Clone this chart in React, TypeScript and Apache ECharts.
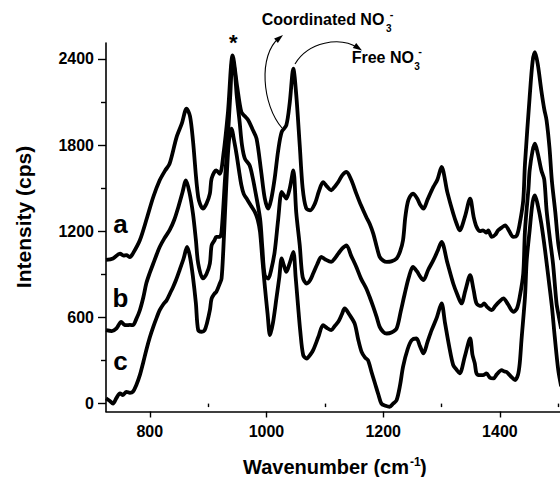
import React, { useEffect, useRef } from "react";
import * as echarts from "echarts";

const FONT = "Liberation Sans, Arial, sans-serif";

const waveA = [725, 737, 749, 755, 760, 766, 771, 783, 795, 806, 817, 826, 834, 846, 855, 863, 869, 874, 883, 891, 897, 903, 906, 914, 920, 926, 934, 942, 950, 957, 963, 969, 976, 983, 991, 997, 1003, 1008, 1014, 1020, 1026, 1034, 1040, 1046, 1051, 1057, 1062, 1068, 1075, 1083, 1090, 1097, 1104, 1111, 1117, 1123, 1130, 1137, 1145, 1154, 1162, 1171, 1177, 1183, 1189, 1194, 1200, 1206, 1214, 1223, 1229, 1234, 1238, 1243, 1251, 1258, 1264, 1269, 1276, 1286, 1293, 1300, 1310, 1320, 1326, 1331, 1340, 1349, 1355, 1360, 1366, 1371, 1377, 1380, 1386, 1392, 1397, 1403, 1409, 1416, 1423, 1429, 1434, 1440, 1443, 1451, 1456, 1460, 1465, 1471, 1476, 1480, 1485, 1489, 1495, 1500, 1505];
const intensityA = [1000, 1010, 1044, 1030, 1033, 1020, 1044, 1137, 1290, 1438, 1554, 1620, 1670, 1855, 1950, 2053, 2000, 1832, 1438, 1357, 1390, 1462, 1566, 1624, 1600, 1728, 2029, 2423, 2200, 2029, 2000, 1971, 1910, 1844, 1612, 1430, 1357, 1420, 1566, 1760, 1890, 1937, 2100, 2331, 2150, 1798, 1500, 1360, 1345, 1392, 1480, 1542, 1510, 1485, 1510, 1542, 1590, 1612, 1560, 1462, 1380, 1299, 1250, 1183, 1090, 1021, 995, 986, 990, 1010, 1060, 1137, 1300, 1415, 1462, 1430, 1380, 1357, 1420, 1508, 1560, 1647, 1470, 1323, 1250, 1206, 1300, 1427, 1300, 1230, 1200, 1206, 1190, 1206, 1160, 1175, 1206, 1225, 1241, 1200, 1160, 1170, 1253, 1415, 1670, 2133, 2380, 2446, 2360, 2180, 2050, 1971, 1780, 1554, 1330, 1114, 1000];

const waveB = [725, 735, 743, 751, 756, 760, 766, 771, 777, 783, 789, 794, 800, 806, 812, 817, 825, 834, 842, 849, 856, 862, 868, 874, 879, 883, 891, 897, 903, 906, 911, 914, 920, 923, 929, 934, 938, 942, 946, 949, 954, 958, 963, 971, 976, 980, 989, 993, 997, 1003, 1008, 1014, 1020, 1026, 1030, 1034, 1040, 1046, 1051, 1057, 1062, 1069, 1075, 1080, 1087, 1094, 1100, 1111, 1117, 1123, 1130, 1137, 1145, 1154, 1162, 1171, 1177, 1183, 1189, 1194, 1200, 1206, 1214, 1223, 1230, 1237, 1244, 1251, 1258, 1264, 1269, 1277, 1286, 1293, 1300, 1310, 1320, 1327, 1334, 1341, 1349, 1355, 1360, 1368, 1373, 1378, 1386, 1392, 1399, 1406, 1414, 1423, 1429, 1434, 1440, 1443, 1449, 1451, 1456, 1460, 1465, 1471, 1476, 1480, 1486, 1491, 1497, 1500, 1505];
const intensityB = [511, 505, 523, 569, 550, 546, 548, 546, 590, 650, 740, 836, 910, 975, 1040, 1090, 1150, 1207, 1280, 1369, 1470, 1554, 1470, 1323, 1140, 975, 871, 900, 975, 1102, 1137, 1160, 1160, 1195, 1566, 1867, 2150, 2400, 2300, 2145, 1960, 1800, 1705, 1659, 1580, 1497, 1288, 1080, 894, 870, 930, 1056, 1280, 1473, 1450, 1427, 1500, 1624, 1330, 1102, 880, 836, 860, 905, 970, 1021, 1005, 986, 1010, 1044, 1080, 1102, 1030, 951, 870, 801, 740, 673, 600, 534, 500, 488, 495, 523, 640, 766, 880, 951, 920, 880, 859, 930, 998, 1060, 1125, 980, 836, 760, 697, 790, 894, 790, 697, 680, 697, 673, 650, 680, 710, 732, 690, 639, 660, 743, 905, 1206, 1500, 1624, 1760, 1809, 1740, 1624, 1560, 1346, 1137, 975, 700, 627, 520];

const waveC = [725, 731, 737, 743, 749, 754, 760, 766, 771, 777, 783, 789, 794, 800, 806, 812, 817, 823, 829, 835, 840, 845, 851, 858, 864, 869, 874, 879, 883, 889, 894, 898, 903, 906, 911, 914, 920, 923, 926, 929, 935, 940, 945, 949, 953, 957, 961, 966, 973, 980, 985, 989, 993, 997, 1002, 1006, 1011, 1017, 1022, 1026, 1030, 1034, 1040, 1046, 1050, 1054, 1058, 1063, 1069, 1075, 1080, 1089, 1097, 1104, 1111, 1117, 1123, 1129, 1134, 1142, 1151, 1157, 1163, 1169, 1174, 1180, 1186, 1192, 1197, 1204, 1211, 1217, 1223, 1229, 1234, 1242, 1249, 1257, 1263, 1269, 1276, 1283, 1292, 1300, 1306, 1313, 1320, 1326, 1331, 1340, 1349, 1353, 1357, 1360, 1366, 1371, 1377, 1383, 1389, 1395, 1403, 1407, 1411, 1414, 1420, 1426, 1431, 1434, 1437, 1443, 1446, 1451, 1456, 1460, 1465, 1471, 1477, 1483, 1489, 1494, 1500, 1505];
const intensityC = [36, 20, 0, 40, 71, 60, 82, 75, 82, 130, 198, 290, 372, 460, 534, 600, 650, 690, 720, 770, 812, 860, 928, 1010, 1090, 1020, 882, 700, 511, 500, 511, 560, 650, 731, 766, 777, 836, 870, 1067, 1334, 1798, 1914, 1820, 1728, 1620, 1520, 1460, 1427, 1380, 1334, 1280, 1195, 1000, 824, 620, 476, 560, 731, 880, 1010, 960, 917, 980, 1056, 880, 685, 500, 337, 314, 340, 372, 465, 546, 525, 511, 540, 569, 620, 662, 620, 558, 450, 360, 320, 302, 220, 140, 60, 0, -15, -22, 0, 24, 130, 256, 380, 442, 453, 400, 349, 430, 511, 600, 697, 560, 400, 268, 235, 210, 330, 453, 340, 280, 210, 198, 198, 210, 180, 175, 205, 233, 225, 221, 210, 185, 163, 200, 280, 442, 743, 1000, 1206, 1400, 1450, 1380, 1253, 1080, 882, 680, 465, 233, 120];

const xMajorTicks = [800, 1000, 1200, 1400];
const xMinorTicks = [900, 1100, 1300, 1500];
const yMajorTicks = [0, 600, 1200, 1800, 2400];
const yMinorTicks = [300, 900, 1500, 2100];
const curveLabels = ["a", "b", "c"];

function pairs(xs: number[], ys: number[]) {
  return xs.map((x, i) => [x, ys[i]]);
}

export default function App() {
  const ref = useRef<HTMLDivElement>(null);
  useEffect(() => {
    const chart = echarts.init(ref.current!, undefined, { renderer: "svg" });
    const lineStyle = { color: "#000", width: 3.8 };
    const txt = (x: number, y: number, text: string, size: number, align = "left", extra: any = {}) => ({
      type: "text",
      x,
      y,
      ...extra,
      style: {
        text,
        fill: "#000",
        fontSize: size,
        fontWeight: "bold",
        fontFamily: FONT,
        align,
        verticalAlign: "middle",
      },
    });
    const labelStyle = {
      margin: 12,
      color: "#000",
      fontSize: 16,
      fontWeight: "bold",
      fontFamily: FONT,
      formatter: (v: number) => String(v),
    };
    chart.setOption({
      animation: false,
      backgroundColor: "#fff",
      grid: { left: 106, right: 0, top: 43, bottom: 65.5 },
      xAxis: [
        {
          type: "value",
          min: 725,
          max: 1503,
          position: "bottom",
          axisLine: { show: true, onZero: false, lineStyle: { color: "#000", width: 1.6 } },
          axisTick: { show: true, customValues: xMajorTicks, length: 6, lineStyle: { color: "#000", width: 1.4 } },
          axisLabel: { ...labelStyle, customValues: xMajorTicks },
          splitLine: { show: false },
        },
        {
          type: "value",
          min: 725,
          max: 1503,
          position: "bottom",
          axisLine: { show: false },
          axisTick: { show: true, customValues: xMinorTicks, length: 3.5, lineStyle: { color: "#000", width: 1.4 } },
          axisLabel: { show: false },
          splitLine: { show: false },
        },
      ],
      yAxis: [
        {
          type: "value",
          min: -55,
          max: 2510,
          position: "left",
          axisLine: { show: true, onZero: false, lineStyle: { color: "#000", width: 1.6 } },
          axisTick: { show: true, customValues: yMajorTicks, length: 8, lineStyle: { color: "#000", width: 1.4 } },
          axisLabel: { ...labelStyle, customValues: yMajorTicks },
          splitLine: { show: false },
        },
        {
          type: "value",
          min: -55,
          max: 2510,
          position: "left",
          axisLine: { show: false },
          axisTick: { show: true, customValues: yMinorTicks, length: 5, lineStyle: { color: "#000", width: 1.4 } },
          axisLabel: { show: false },
          splitLine: { show: false },
        },
      ],
      series: [
        { type: "line", xAxisIndex: 0, yAxisIndex: 0, data: pairs(waveA, intensityA), showSymbol: false, smooth: 0.3, lineStyle },
        { type: "line", xAxisIndex: 0, yAxisIndex: 0, data: pairs(waveB, intensityB), showSymbol: false, smooth: 0.3, lineStyle },
        { type: "line", xAxisIndex: 0, yAxisIndex: 0, data: pairs(waveC, intensityC), showSymbol: false, smooth: 0.3, lineStyle },
      ],
      graphic: [
        txt(120.5, 224, curveLabels[0], 26, "center"),
        txt(120.5, 297.5, curveLabels[1], 26, "center"),
        txt(120.5, 361, curveLabels[2], 26, "center"),
        txt(233.3, 42, "*", 22, "center"),
        txt(261.7, 19.7, "Coordinated NO", 16, "left"),
        txt(388.7, 28.5, "3", 10, "center"),
        txt(391.7, 13.5, "-", 11, "center"),
        txt(351.7, 57.5, "Free NO", 16, "left"),
        txt(417, 66.5, "3", 10, "center"),
        txt(420, 50.5, "-", 11, "center"),
        txt(409, 467, "Wavenumber (cm", 20, "right"),
        txt(410, 462, "-1", 12, "left"),
        txt(420, 467, ")", 20, "left"),
        txt(23, 217, "Intensity (cps)", 21, "center", { rotation: Math.PI / 2 }),
        {
          type: "bezierCurve",
          shape: { x1: 282, y1: 128, cpx1: 262, cpy1: 105, cpx2: 258, cpy2: 55, x2: 279, y2: 38 },
          style: { stroke: "#000", lineWidth: 1.1, fill: "none" },
        },
        {
          type: "polygon",
          shape: { points: [[283, 35], [277.9, 43], [274.1, 38.4]] },
          style: { fill: "#000" },
        },
        {
          type: "bezierCurve",
          shape: { x1: 295, y1: 64, cpx1: 308, cpy1: 42, cpx2: 340, cpy2: 36, x2: 358, y2: 48 },
          style: { stroke: "#000", lineWidth: 1.1, fill: "none" },
        },
        {
          type: "polygon",
          shape: { points: [[362, 50.5], [352.8, 48], [356.2, 43]] },
          style: { fill: "#000" },
        },
      ],
    });
    return () => chart.dispose();
  }, []);
  return (
    <div
      ref={ref}
      style={{ position: "absolute", left: 0, top: 0, width: 560, height: 477, background: "#fff" }}
    />
  );
}
